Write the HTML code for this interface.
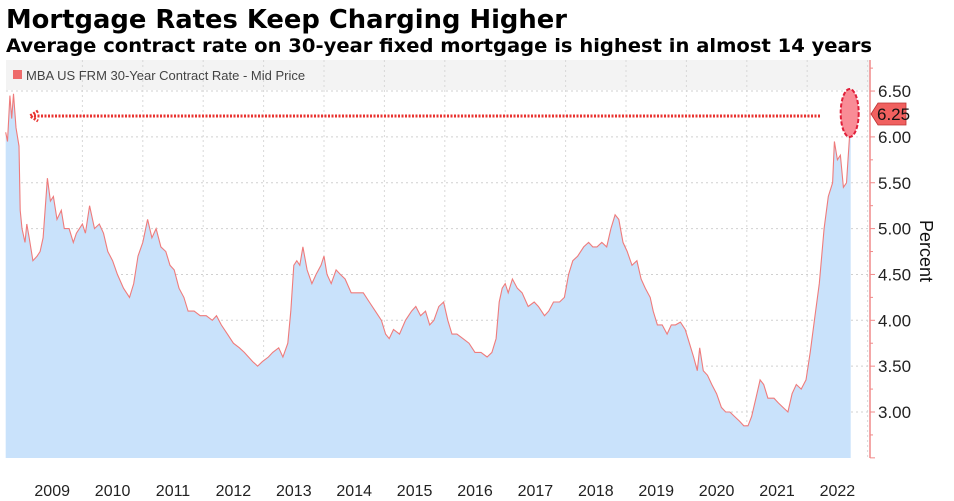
<!DOCTYPE html>
<html><head><meta charset="utf-8"><style>
body{margin:0;background:#fff;font-family:"Liberation Sans",sans-serif;}
#wrap{position:relative;width:954px;height:501px;overflow:hidden;}
</style></head><body>
<div id="wrap">
<svg id="chart" width="954" height="501" style="position:absolute;left:0;top:0">
<text x="6" y="28" font-size="26" font-weight="bold" font-family="DejaVu Sans, sans-serif" textLength="561" lengthAdjust="spacingAndGlyphs">Mortgage Rates Keep Charging Higher</text>
<text x="6" y="52" font-size="19" font-weight="bold" font-family="DejaVu Sans, sans-serif" textLength="866" lengthAdjust="spacingAndGlyphs">Average contract rate on 30-year fixed mortgage is highest in almost 14 years</text>
</svg>
</div>
<script>
const dates=[2008.73,2008.76,2008.80,2008.83,2008.86,2008.90,2008.95,2008.97,2009.0,2009.05,2009.08,2009.12,2009.18,2009.25,2009.3,2009.35,2009.42,2009.47,2009.52,2009.58,2009.65,2009.7,2009.78,2009.85,2009.9,2010.0,2010.05,2010.12,2010.2,2010.28,2010.35,2010.42,2010.5,2010.58,2010.68,2010.78,2010.85,2010.92,2011.0,2011.08,2011.15,2011.22,2011.3,2011.38,2011.45,2011.52,2011.6,2011.68,2011.75,2011.85,2011.95,2012.05,2012.15,2012.22,2012.3,2012.4,2012.5,2012.6,2012.68,2012.75,2012.82,2012.9,2012.98,2013.08,2013.15,2013.25,2013.32,2013.4,2013.45,2013.5,2013.55,2013.6,2013.65,2013.72,2013.8,2013.87,2013.95,2014.0,2014.05,2014.12,2014.2,2014.27,2014.35,2014.45,2014.55,2014.65,2014.75,2014.85,2014.95,2015.02,2015.08,2015.15,2015.25,2015.35,2015.45,2015.52,2015.6,2015.68,2015.75,2015.82,2015.9,2015.98,2016.05,2016.12,2016.2,2016.3,2016.4,2016.5,2016.6,2016.7,2016.78,2016.85,2016.9,2016.95,2017.0,2017.05,2017.12,2017.2,2017.28,2017.38,2017.48,2017.55,2017.65,2017.72,2017.8,2017.9,2017.98,2018.05,2018.12,2018.2,2018.3,2018.38,2018.45,2018.52,2018.6,2018.68,2018.75,2018.82,2018.88,2018.95,2019.02,2019.1,2019.18,2019.25,2019.32,2019.4,2019.45,2019.52,2019.6,2019.68,2019.75,2019.82,2019.9,2019.98,2020.05,2020.12,2020.18,2020.22,2020.28,2020.35,2020.42,2020.5,2020.58,2020.65,2020.72,2020.8,2020.88,2020.95,2021.02,2021.08,2021.15,2021.22,2021.28,2021.35,2021.45,2021.52,2021.6,2021.68,2021.75,2021.82,2021.9,2021.98,2022.05,2022.12,2022.2,2022.28,2022.35,2022.42,2022.45,2022.5,2022.55,2022.6,2022.65,2022.7,2022.72];
const rates=[6.05,5.95,6.45,6.2,6.47,6.1,5.9,5.2,5.0,4.85,5.05,4.9,4.65,4.7,4.75,4.9,5.55,5.3,5.35,5.1,5.2,5.0,5.0,4.85,4.95,5.05,4.95,5.25,5.0,5.05,4.95,4.75,4.65,4.5,4.35,4.25,4.4,4.7,4.85,5.1,4.9,5.0,4.8,4.75,4.6,4.55,4.35,4.25,4.1,4.1,4.05,4.05,4.0,4.05,3.95,3.85,3.75,3.7,3.65,3.6,3.55,3.5,3.55,3.6,3.65,3.7,3.6,3.75,4.1,4.6,4.65,4.6,4.8,4.55,4.4,4.5,4.6,4.7,4.5,4.4,4.55,4.5,4.45,4.3,4.3,4.3,4.2,4.1,4.0,3.85,3.8,3.9,3.85,4.0,4.1,4.15,4.05,4.1,3.95,4.0,4.15,4.2,4.0,3.85,3.85,3.8,3.75,3.65,3.65,3.6,3.65,3.8,4.2,4.35,4.4,4.3,4.45,4.35,4.3,4.15,4.2,4.15,4.05,4.1,4.2,4.2,4.25,4.5,4.65,4.7,4.8,4.85,4.8,4.8,4.85,4.8,5.0,5.15,5.1,4.85,4.75,4.6,4.65,4.45,4.35,4.25,4.1,3.95,3.95,3.85,3.95,3.95,3.98,3.9,3.75,3.6,3.45,3.7,3.45,3.4,3.3,3.2,3.05,3.0,3.0,2.95,2.9,2.85,2.85,2.95,3.15,3.35,3.3,3.15,3.15,3.1,3.05,3.0,3.2,3.3,3.25,3.35,3.65,4.0,4.4,5.0,5.35,5.5,5.95,5.75,5.8,5.45,5.5,6.0,6.25];
const yTicks=[3.0,3.5,4.0,4.5,5.0,5.5,6.0,6.5];
const yearLabels=[2009,2010,2011,2012,2013,2014,2015,2016,2017,2018,2019,2020,2021,2022];
const lastValue=6.25;

const NS="http://www.w3.org/2000/svg";
const svg=document.getElementById('chart');
const X=t=>22+(t-2009)*60.4;
const Y=v=>412-(v-3)*91.7;
const PT=60,PB=458,PL=6,PR=870;
function el(tag,attrs,parent){const e=document.createElementNS(NS,tag);for(const k in attrs)e.setAttribute(k,attrs[k]);(parent||svg).appendChild(e);return e;}

const lg=el('rect',{x:PL,y:PT,width:PR-PL,height:30,fill:'#f3f3f3'});


yTicks.forEach(v=>{const g=el('line',{x1:PL,x2:PR,y1:Y(v),y2:Y(v),stroke:'#d0d0d0','stroke-dasharray':'2,3'});

});
yearLabels.forEach(yr=>{const g=el('line',{x1:X(yr+1),x2:X(yr+1),y1:PT,y2:PB,stroke:'#d8d8d8','stroke-dasharray':'2,3'});

});
let d='M'+X(dates[0])+','+PB;
dates.forEach((t,i)=>{d+='L'+X(t).toFixed(1)+','+Y(rates[i]).toFixed(1);});
d+='L'+X(dates[dates.length-1])+','+PB+'Z';
const area=el('path',{d:d,fill:'#c9e2fb'});


const line=el('path',{d:'M'+dates.map((t,i)=>X(t).toFixed(1)+','+Y(rates[i]).toFixed(1)).join('L'),fill:'none',stroke:'#ef7b7b','stroke-width':1.1});


const ls=el('rect',{x:13,y:70,width:9,height:9,fill:'#ee6b6b'});


const lt=el('text',{x:26,y:80,'font-size':13,fill:'#444','font-family':'Liberation Sans'});lt.textContent='MBA US FRM 30-Year Contract Rate - Mid Price';


const lastX=X(dates[dates.length-1]);
const ar=el('line',{x1:34,x2:lastX-30,y1:Y(lastValue)+2,y2:Y(lastValue)+2,stroke:'#e8322f','stroke-width':3,'stroke-dasharray':'2,1.5'});


const ah=el('path',{d:`M38,${Y(lastValue)-3} L30,${Y(lastValue)+2} L38,${Y(lastValue)+7}`,fill:'none',stroke:'#e8322f','stroke-width':3,'stroke-dasharray':'2,1.5'});


const ov=el('ellipse',{cx:lastX-1,cy:Y(lastValue)-1,rx:9,ry:24,fill:'#f98c96','stroke':'#e0203a','stroke-width':2,'stroke-dasharray':'4,2'});


const ax=el('line',{x1:PR,x2:PR,y1:PT,y2:PB,stroke:'#f08a8a','stroke-width':1.5});


for(let v=2.5;v<=6.75;v+=0.25){const tk=el('line',{x1:PR,x2:PR+(v*2%1===0?5:3),y1:Y(v),y2:Y(v),stroke:'#f08a8a'});

}
yTicks.forEach(v=>{const tx=el('text',{x:878,y:Y(v)+6,'font-size':17,fill:'#222','font-family':'Liberation Sans'});tx.textContent=v.toFixed(2);

});
const yv=Y(lastValue);
const tag=el('path',{d:`M871,${yv} L878,${yv-11} L906,${yv-11} L906,${yv+11} L878,${yv+11} Z`,fill:'#f0605f',stroke:'#b33','stroke-width':0.8});


const tv=el('text',{x:877,y:yv+6,'font-size':17,fill:'#111','font-family':'Liberation Sans'});tv.textContent=lastValue.toFixed(2);


const yt=el('text',{x:0,y:0,'font-size':18,fill:'#111','font-family':'Liberation Sans',transform:'translate(920,220) rotate(90)'});yt.textContent='Percent';


yearLabels.forEach(yr=>{const tx=el('text',{x:X(yr+0.5),y:496,'font-size':16,fill:'#222','text-anchor':'middle','font-family':'Liberation Sans'});tx.textContent=yr;

});
</script>
</body></html>
